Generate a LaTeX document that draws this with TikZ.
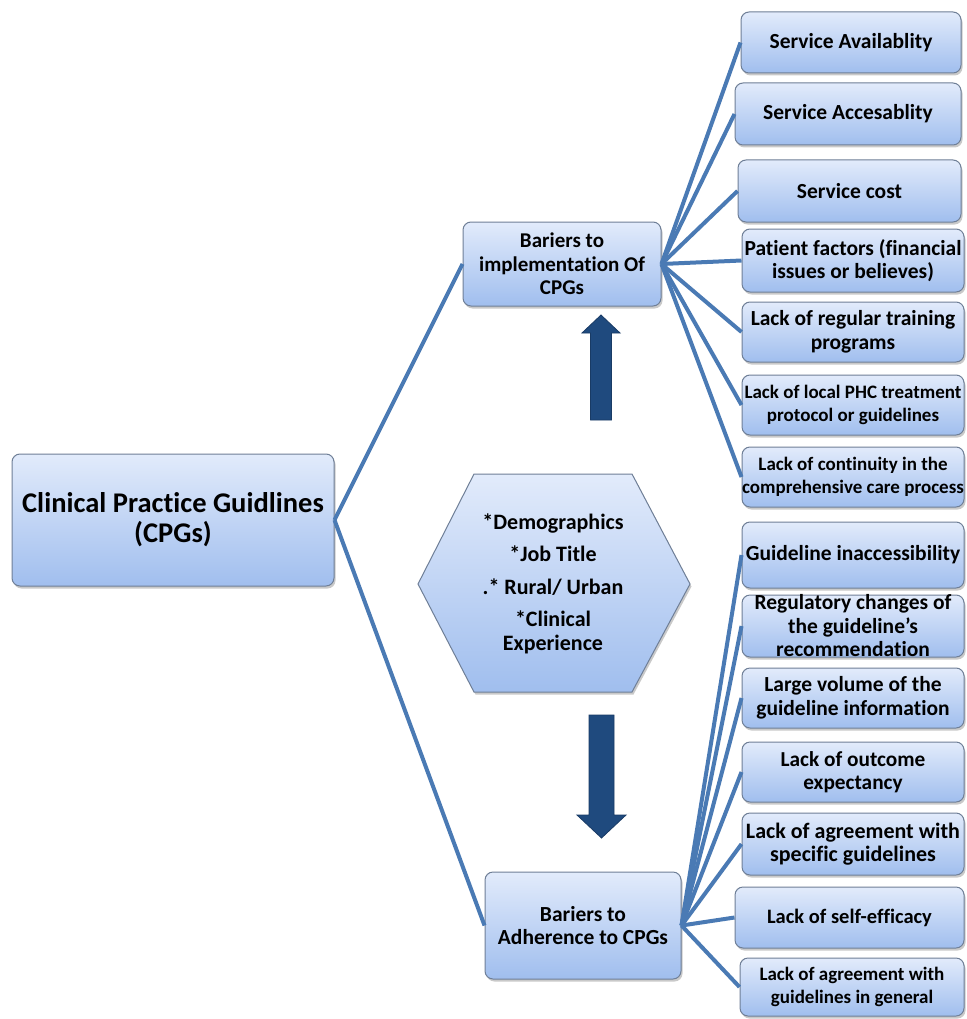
\documentclass[tikz,border=0pt]{standalone}
\usepackage{fontspec}
\setmainfont{Carlito}[Ligatures={NoCommon}]
\usetikzlibrary{shadows}
\definecolor{linec}{HTML}{4A7AB4}
\definecolor{arrowc}{HTML}{1F4A7E}
\definecolor{bordc}{HTML}{6F7F97}
\definecolor{topc}{HTML}{E2EBFB}
\definecolor{botc}{HTML}{A0BEEE}
\tikzset{
  cbox/.style={draw=bordc, line width=1pt, rounded corners=8pt, top color=topc, bottom color=botc,
    drop shadow={opacity=0.35, shadow xshift=1.5pt, shadow yshift=-2.5pt, fill=black!60}, inner sep=0pt},
  lbl/.style={align=center, inner sep=0pt, text=black},
  conn/.style={draw=linec, line width=4pt},
  bigarrow/.style={fill=arrowc, draw=arrowc!80!black, line width=0.8pt}
}
\newcommand\cbx[7][21.5]{%
  \node[cbox, minimum width=#5pt, minimum height=#6pt] (#2) at (#3,#4) {};
  \node[lbl, font=\fontsize{#1}{23.5}\selectfont\bfseries] (#2t) at (#2) {#7};}
\begin{document}
\begin{tikzpicture}[x=1pt,y=-1pt]
\useasboundingbox (0,0) rectangle (966,1019);
\fill[white] (0,0) rectangle (966,1019);

% main nodes
\node[cbox, minimum width=322pt, minimum height=132pt] (main) at (173,520) {};
\node[lbl, font=\fontsize{28.5}{30}\selectfont\bfseries] (maint) at (main) {Clinical Practice Guidlines\\(CPGs)};
\cbx[21]{impl}{562}{264}{198}{84}{Bariers to\\implementation Of\\CPGs}
\cbx[21.5]{adh}{583}{925.5}{196}{107}{Bariers to\\Adherence to CPGs}

% hexagon
\path[draw=bordc, line width=1pt, top color=topc, bottom color=botc,
  drop shadow={opacity=0.35, shadow xshift=1.5pt, shadow yshift=-2.5pt, fill=black!60}]
  (418,584) -- (474,474) -- (632,474) -- (690,584) -- (632,692) -- (474,692) -- cycle;
\node[lbl, font=\fontsize{22}{24}\selectfont\bfseries] (hex) at (553,584)
  {*Demographics\\[8.5pt]*Job Title\\[8.5pt].* Rural/ Urban\\[8.5pt]*Clinical\\Experience};

% big arrows
\fill[bigarrow] (601,315) -- (620,333) -- (611.5,333) -- (611.5,420) -- (590.5,420) -- (590.5,333) -- (582,333) -- cycle;
\fill[bigarrow] (589,715) -- (614,715) -- (614,815) -- (626,815) -- (601.5,838) -- (577,815) -- (589,815) -- cycle;

% right boxes: implementation
\cbx{a1}{851}{42.5}{220}{61}{Service Availablity}
\cbx{a2}{848}{114}{226}{62}{Service Accesablity}
\cbx{a3}{849.5}{191}{223}{62}{Service cost}
\cbx{a4}{853}{260.5}{222}{63}{Patient factors (financial\\issues or believes)}
\cbx{a5}{853}{332}{222}{60}{Lack of regular training\\programs}
\cbx[19]{a6}{853}{405}{222}{60}{Lack of local PHC treatment\\protocol or guidelines}
\cbx[19]{a7}{853}{477}{222}{60}{Lack of continuity in the\\comprehensive care process}

% right boxes: adherence
\cbx{b1}{853}{555}{222}{66}{Guideline inaccessibility}
\cbx{b2}{853}{626}{222}{62}{Regulatory changes of\\the guideline’s\\recommendation}
\cbx{b3}{853}{698}{222}{60}{Large volume of the\\guideline information}
\cbx[21.3]{b4}{853}{772}{222}{60}{Lack of outcome\\expectancy}
\cbx[22]{b5}{853}{844}{222}{62}{Lack of agreement with\\specific guidelines}
\cbx[20.5]{b6}{849.5}{917.5}{229}{61}{Lack of self-efficacy}
\cbx[19]{b7}{852}{987}{224}{58}{Lack of agreement with\\guidelines in general}

% connectors
\draw[conn] (main.east) -- (impl.west);
\draw[conn] (main.east) -- (adh.west);
\foreach \n in {a1,a2,a3,a4,a5,a6,a7} \draw[conn] (impl.east) -- (\n.west);
\foreach \n in {b1,b2,b3,b4,b5,b6,b7} \draw[conn] (adh.east) -- (\n.west);
\end{tikzpicture}
\end{document}
